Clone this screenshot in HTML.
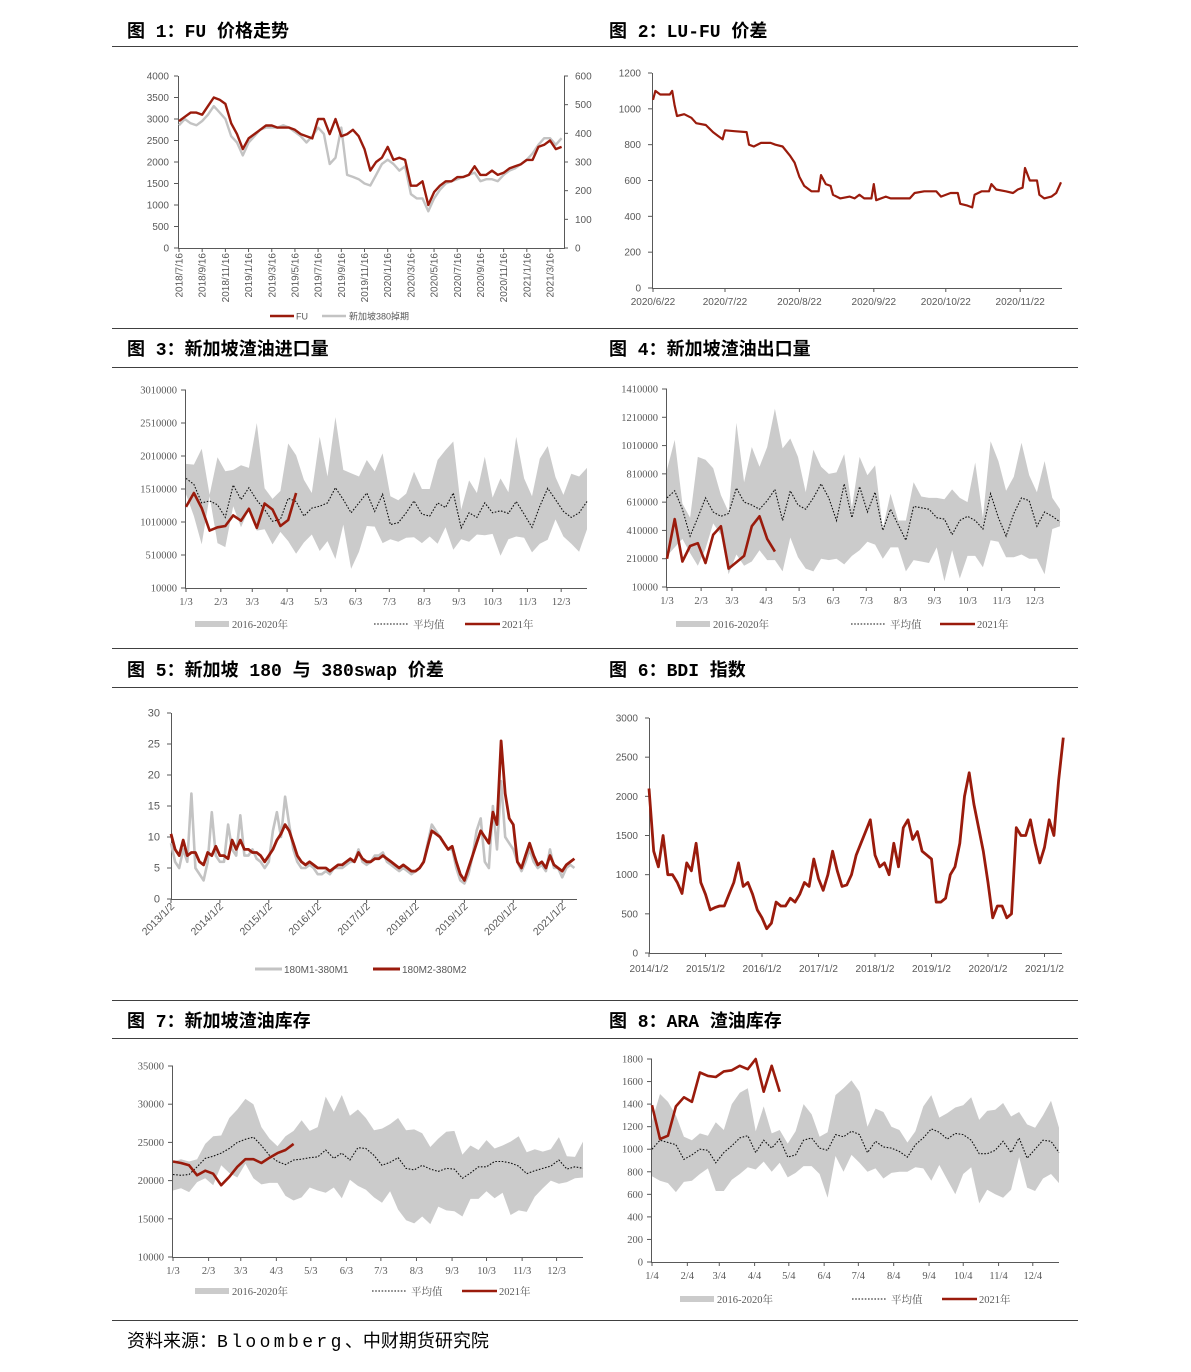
<!DOCTYPE html>
<html><head><meta charset="utf-8"><title>燃料油图表</title>
<style>
html,body{margin:0;padding:0;background:#fff;}
svg{display:block;}
.ttl{font-family:"Liberation Mono","Noto Sans CJK SC",monospace;font-size:18px;font-weight:bold;fill:#000;}
.sn{font-family:"Liberation Sans","Noto Sans CJK SC",sans-serif;font-size:10px;fill:#595959;}
.sf{font-family:"Liberation Serif","Noto Serif CJK SC",serif;font-size:10.5px;fill:#595959;}
</style></head>
<body>
<svg id="page" xmlns="http://www.w3.org/2000/svg" width="1191" height="1372" viewBox="0 0 1191 1372">
<rect x="0" y="0" width="1191" height="1372" fill="#fff"/>
<g stroke="#404040" stroke-width="1">
<line x1="112" y1="46.5" x2="1078" y2="46.5"/>
<line x1="112" y1="328.5" x2="1078" y2="328.5"/>
<line x1="112" y1="367.5" x2="1078" y2="367.5"/>
<line x1="112" y1="648.5" x2="1078" y2="648.5"/>
<line x1="112" y1="687.5" x2="1078" y2="687.5"/>
<line x1="112" y1="1000.5" x2="1078" y2="1000.5"/>
<line x1="112" y1="1038.5" x2="1078" y2="1038.5"/>
<line x1="112" y1="1320.5" x2="1078" y2="1320.5"/>
</g>
<text class="ttl" x="127" y="37">图 1：FU 价格走势</text>
<text class="ttl" x="609" y="37">图 2：LU-FU 价差</text>
<text class="ttl" x="127" y="355">图 3：新加坡渣油进口量</text>
<text class="ttl" x="609" y="355">图 4：新加坡渣油出口量</text>
<text class="ttl" x="127" y="676">图 5：新加坡 180 与 380swap 价差</text>
<text class="ttl" x="609" y="676">图 6：BDI 指数</text>
<text class="ttl" x="127" y="1027">图 7：新加坡渣油库存</text>
<text class="ttl" x="609" y="1027">图 8：ARA 渣油库存</text>
<text x="127" y="1347" style="font-family:'Liberation Mono','Noto Sans CJK SC',monospace;font-size:18px;fill:#000;">资料来源：<tspan letter-spacing="3.4">Bloomberg</tspan>、中财期货研究院</text>
</svg>
<script>
// ===== Chart 1: FU vs Singapore 380 (half-month samples from 2018/7/16) =====
const fuValues=[2950,3050,3150,3150,3100,3300,3500,3450,3350,2900,2650,2300,2550,2650,2750,2850,2850,2800,2800,2800,2750,2650,2600,2550,3000,3000,2650,3000,2600,2650,2750,2600,2300,1800,2000,2100,2350,2050,2100,2050,1450,1450,1550,1000,1300,1450,1550,1550,1650,1650,1700,1900,1700,1700,1800,1700,1750,1850,1900,1950,2050,2050,2350,2400,2500,2300,2350];
const sg380Values=[428,450,435,428,443,465,495,473,450,390,368,323,368,390,413,420,420,420,428,420,405,390,368,390,420,398,293,315,420,255,248,240,225,218,255,293,308,293,270,285,188,173,173,128,173,203,225,233,240,248,255,263,233,240,240,233,255,270,278,293,308,330,360,383,383,360,383];
const c1TickLabels=['2018/7/16','2018/9/16','2018/11/16','2019/1/16','2019/3/16','2019/5/16','2019/7/16','2019/9/16','2019/11/16','2020/1/16','2020/3/16','2020/5/16','2020/7/16','2020/9/16','2020/11/16','2021/1/16','2021/3/16'];
const c1LeftTicks=[0,500,1000,1500,2000,2500,3000,3500,4000];
const c1RightTicks=[0,100,200,300,400,500,600];
// ===== Chart 2: LU-FU spread (days since 2020/6/22) =====
const luDays=[0,1,3,7,8,9,10,13,16,18,22,25,27,29,30,34,39,40,42,45,49,51,54,57,59,61,63,66,69,70,72,74,75,78,82,84,86,88,91,92,93,97,99,107,109,113,118,120,124,127,128,131,133,134,137,140,141,143,147,150,152,154,155,157,160,161,163,166,168,170];
const luValues=[1050,1100,1080,1080,1100,1020,960,970,950,920,910,870,850,830,880,875,870,800,790,810,810,800,790,740,700,620,570,540,540,630,580,570,520,500,510,500,520,500,500,580,490,510,500,500,530,540,540,510,530,530,470,460,450,520,540,540,580,550,540,530,550,560,670,600,600,520,500,510,530,590];
const c2TickDays=[0,30,61,92,122,153];
const c2TickLabels=['2020/6/22','2020/7/22','2020/8/22','2020/9/22','2020/10/22','2020/11/22'];
const c2YTicks=[0,200,400,600,800,1000,1200];
// ===== Seasonal weekly charts shared tick months =====
const monthDays=[0,31,59,90,120,151,181,212,243,273,304,334];
const monthLabels3=['1/3','2/3','3/3','4/3','5/3','6/3','7/3','8/3','9/3','10/3','11/3','12/3'];
const monthLabels4=['1/4','2/4','3/4','4/4','5/4','6/4','7/4','8/4','9/4','10/4','11/4','12/4'];
// ===== Chart 3: Singapore imports =====
const impHigh=[1890000,1880000,2120000,1420000,1990000,1780000,1800000,1870000,1830000,2510000,1520000,1360000,1480000,2200000,2020000,1650000,1450000,2300000,1700000,2600000,1800000,1750000,1700000,1950000,1780000,2050000,1400000,1340000,1440000,1770000,1510000,1510000,1950000,2100000,2230000,1200000,1640000,1450000,2000000,1380000,1670000,1460000,2300000,1670000,1400000,1970000,2160000,1690000,1420000,1740000,1700000,1830000];
const impLow=[1430000,1100000,670000,1400000,690000,630000,1250000,930000,1200000,880000,900000,670000,860000,720000,530000,700000,820000,570000,720000,450000,970000,300000,560000,950000,940000,690000,750000,710000,770000,780000,690000,790000,680000,930000,590000,750000,710000,820000,810000,830000,500000,750000,790000,770000,550000,680000,740000,1050000,790000,680000,560000,900000];
const impAvg=[1670000,1580000,1300000,1330000,1270000,1080000,1570000,1350000,1530000,1340000,1200000,1020000,1050000,1370000,1320000,1100000,1220000,1250000,1300000,1530000,1350000,1150000,1300000,1450000,1170000,1430000,970000,1000000,1150000,1330000,1130000,1100000,1300000,1230000,1450000,920000,1150000,1080000,1300000,1150000,1180000,1140000,1320000,1130000,930000,1250000,1520000,1350000,1170000,1080000,1150000,1320000];
const imp2021=[1240000,1450000,1220000,880000,930000,950000,1110000,1030000,1210000,920000,1290000,1200000,950000,1040000,1450000];
const c3YTicks=[10000,510000,1010000,1510000,2010000,2510000,3010000];
// ===== Chart 4: Singapore exports =====
const expHigh=[840000,1050000,600000,500000,930000,910000,850000,660000,540000,1170000,750000,1000000,860000,1000000,1270000,990000,1060000,930000,680000,980000,860000,810000,820000,950000,570000,930000,800000,870000,420000,670000,480000,480000,750000,650000,640000,640000,630000,700000,640000,610000,890000,500000,1040000,900000,690000,790000,1030000,800000,680000,900000,640000,560000];
const expLow=[230000,290000,350000,250000,160000,280000,460000,380000,100000,240000,160000,190000,270000,200000,200000,120000,360000,220000,140000,120000,210000,200000,210000,170000,230000,270000,330000,310000,210000,290000,290000,120000,200000,190000,180000,290000,50000,270000,70000,230000,230000,150000,340000,330000,220000,220000,240000,210000,210000,100000,420000,440000];
const expAvg=[640000,690000,560000,370000,500000,640000,540000,510000,530000,710000,610000,590000,560000,620000,700000,480000,690000,590000,560000,640000,740000,640000,480000,740000,500000,720000,540000,680000,410000,560000,450000,340000,580000,570000,560000,500000,490000,380000,480000,510000,480000,420000,670000,500000,370000,530000,640000,620000,440000,540000,510000,470000];
const exp2021=[210000,490000,190000,300000,320000,180000,380000,440000,140000,185000,230000,440000,510000,350000,260000];
const c4YTicks=[10000,210000,410000,610000,810000,1010000,1210000,1410000];
// ===== Chart 5: 180/380 spread (monthly from 2013/1) =====
const spreadM2=[10.5,8,7,9.5,7,7.5,7.5,6,5.5,7.5,7,8.5,7,7,6.5,9.5,8,9.5,8,8,7.5,7.5,7,6,7,8,9.5,10.5,12,11,9,7,6,5.5,6,5.5,5,5,5,4.5,5,5.5,5.5,6,6.5,6,7.5,6.5,6,6,6.5,6.5,7,6.5,6,5.5,5,5.5,5,4.5,4.5,5,6,8.5,11,10.5,10,9,8,8.5,6,4,3,5,7,9,11,10,9,14,12,25.5,17,13,12,6,5,7,9,7,5.5,6,5,7,5.5,5,4.5,5.5,6,6.5];
const spreadM1=[9,6,5,8,6,17,5,4,3,6,14,7,6,6,12,8,7,13.5,7,7,8,6.5,6,5,6,11,14,10,16.5,12,8,6,5,5,5.5,5,4,4,4.5,4,5,5,5,5.5,6,6,8,6,5.5,6,7,7,7.5,6,5.5,5,4.5,5,4.5,4,4.5,5,6,9,12,11,10,9,8,8,5,3,2.5,4,7,11,13,6,5,15,8,19,10,9,8,6,4.5,6,8,6,5,5.5,4.5,8,5,5,3.5,5,5.5,5];
const c5YTicks=[0,5,10,15,20,25,30];
const c5YearLabels=['2013/1/2','2014/1/2','2015/1/2','2016/1/2','2017/1/2','2018/1/2','2019/1/2','2020/1/2','2021/1/2'];
// ===== Chart 6: BDI (monthly from 2014/1) =====
const bdiValues=[2100,1300,1100,1500,1000,1000,900,760,1150,1050,1400,900,750,550,580,600,600,750,900,1150,850,900,750,550,450,310,380,650,600,600,700,650,750,900,850,1200,950,800,1000,1300,1050,850,870,1000,1250,1400,1550,1700,1250,1100,1150,1000,1400,1100,1600,1700,1450,1550,1300,1250,1200,650,650,700,1000,1100,1400,2000,2300,1900,1600,1300,900,450,600,600,450,500,1600,1500,1500,1700,1400,1150,1350,1700,1500,2200,2750];
const c6YTicks=[0,500,1000,1500,2000,2500,3000];
const c6YearLabels=['2014/1/2','2015/1/2','2016/1/2','2017/1/2','2018/1/2','2019/1/2','2020/1/2','2021/1/2'];
// ===== Chart 7: Singapore inventory =====
const invHigh=[22500,22800,22500,22800,24800,25800,25900,28200,29300,30700,30000,27000,25500,24500,25800,26500,27900,26500,27000,31000,29000,31200,28500,29300,28200,26600,26800,27400,28200,26600,26700,26200,24400,25500,26400,26500,23400,24600,24000,25300,24200,24600,25100,25800,23700,24100,23800,24100,25700,23200,23100,25100];
const invLow=[18700,19000,18500,19800,20300,19400,22000,21000,20400,22200,20300,19500,19700,19700,18000,17400,17800,19100,18700,18400,19100,17700,20100,19300,18800,17800,17100,18600,16200,14800,14400,15300,14300,16600,16100,16000,15300,17600,17600,18600,17700,18400,15500,16100,15900,17900,19000,20000,19600,19800,20300,20400];
const invAvg=[20800,20700,20800,21800,22900,23200,23600,24200,25000,25400,25700,24600,23300,22500,22100,22700,22800,23000,23100,24000,22900,23600,22700,24300,24200,23300,22000,22400,23000,21600,21400,22000,21500,21200,21600,21500,20300,21000,21800,21800,22500,22500,22300,21900,20900,21300,21600,21900,22700,21500,21800,21600];
const inv2021=[22500,22300,22000,20700,21300,20900,19400,20500,21800,22800,22800,22300,23000,23600,24000,24800];
const c7YTicks=[10000,15000,20000,25000,30000,35000];
// ===== Chart 8: ARA inventory =====
const araHigh=[1250,1490,1420,1300,1110,1080,1140,1120,1240,1170,1400,1500,1540,1160,1380,1140,1170,1050,1160,1400,1310,1110,1150,1480,1540,1610,1510,1200,1360,1330,1200,1170,1060,1160,1380,1480,1280,1320,1370,1390,1460,1260,1340,1350,1410,1290,1330,1220,1190,1300,1430,1190];
const araLow=[760,720,700,620,710,720,780,830,630,630,730,780,840,820,890,800,880,750,790,850,850,780,570,940,800,950,880,800,830,740,790,800,800,840,830,720,860,730,600,780,840,520,640,600,570,640,930,660,630,740,780,700];
const araAvg=[1000,1080,1060,1040,910,950,1000,990,880,970,1030,1100,1120,970,1080,1010,1090,930,950,1080,1100,1010,990,1130,1110,1160,1130,970,1070,1020,1010,980,930,1040,1100,1180,1150,1090,1140,1130,1080,960,960,990,1070,970,1100,920,1000,1080,1070,970];
const ara2021=[1390,1090,1120,1380,1460,1420,1680,1650,1640,1690,1700,1740,1710,1800,1510,1740,1510];
const c8YTicks=[0,200,400,600,800,1000,1200,1400,1600,1800];

const NS='http://www.w3.org/2000/svg';
const svg=document.getElementById('page');
const RED='#9a1b0c', GRAYL='#c3c3c3', BAND='#cbcbcb';
function mk(tag,attrs,parent){const e=document.createElementNS(NS,tag);for(const k in attrs)e.setAttribute(k,attrs[k]);(parent||svg).appendChild(e);return e;}
function lin(d0,d1,r0,r1){return v=>r0+(v-d0)/(d1-d0)*(r1-r0);}
function pathD(sx,sy,xs,ys){return ys.map((v,i)=>(i?'L':'M')+sx(xs[i]).toFixed(1)+','+sy(v).toFixed(1)).join('');}
function idx(n){return Array.from({length:n},(_,i)=>i);}
function bandD(sx,sy,lo,hi){const xs=idx(hi.length);let d=pathD(sx,sy,xs,hi);for(let i=lo.length-1;i>=0;i--)d+='L'+sx(i).toFixed(1)+','+sy(lo[i]).toFixed(1);return d+'Z';}
function group(name){const g=mk('g',{});return g;}

// ---------- Chart 1 ----------
(function(){
 const g=group('chart1-fu-price');
 const sx=lin(0,32,179,550), sy=lin(0,4000,248,76), syR=lin(0,600,248,76);
 const ax=mk('path',{d:'M178.5,76V248.5H564.5V76',fill:'none',stroke:'#595959','stroke-width':1},g);
 
 c1LeftTicks.forEach(v=>{const y=sy(v);
  const t=mk('line',{x1:174,x2:178,y1:y,y2:y,stroke:'#595959'},g);
  const l=mk('text',{x:169,y:y+3.5,'text-anchor':'end',class:'sn'},g);l.textContent=v;});
 c1RightTicks.forEach(v=>{const y=syR(v);
  const t=mk('line',{x1:564,x2:568,y1:y,y2:y,stroke:'#595959'},g);
  const l=mk('text',{x:575,y:y+3.5,class:'sn'},g);l.textContent=v;});
 c1TickLabels.forEach((s,i)=>{const x=sx(i*2);
  const t=mk('line',{x1:x,x2:x,y1:248,y2:252,stroke:'#595959'},g);
  const l=mk('text',{x:0,y:0,'text-anchor':'end',class:'sn',transform:`translate(${x+3.5},253) rotate(-90)`},g);l.textContent=s;});
 const xs=idx(fuValues.length).map(i=>i*0.5);
 const gp=mk('path',{d:pathD(sx,syR,xs,sg380Values),fill:'none',stroke:GRAYL,'stroke-width':2.4,'stroke-linejoin':'round'},g);
 
 const rp=mk('path',{d:pathD(sx,sy,xs,fuValues),fill:'none',stroke:RED,'stroke-width':2.4,'stroke-linejoin':'round'},g);
 
 const l1=mk('line',{x1:270,x2:294,y1:316,y2:316,stroke:RED,'stroke-width':2.5},g);
 const t1=mk('text',{x:296,y:319.5,class:'sn',style:'font-size:9px'},g);t1.textContent='FU';
 const l2=mk('line',{x1:322,x2:346,y1:316,y2:316,stroke:GRAYL,'stroke-width':2.5},g);
 const t2=mk('text',{x:349,y:319.5,class:'sn',style:'font-size:9px'},g);t2.textContent='新加坡380掉期';
})();

// ---------- Chart 2 ----------
(function(){
 const g=group('chart2-lu-fu-spread');
 const sx=lin(0,30,653,725), sy=lin(0,1200,288,73);
 const ax=mk('path',{d:'M652.5,73V288.5H1062',fill:'none',stroke:'#595959'},g);
 c2YTicks.forEach(v=>{const y=sy(v);
  const t=mk('line',{x1:648,x2:652,y1:y,y2:y,stroke:'#595959'},g);
  const l=mk('text',{x:641,y:y+3.5,'text-anchor':'end',class:'sn'},g);l.textContent=v;});
 c2TickDays.forEach((d,i)=>{const x=sx(d);
  const t=mk('line',{x1:x,x2:x,y1:288,y2:292,stroke:'#595959'},g);
  const l=mk('text',{x:x,y:305,'text-anchor':'middle',class:'sn'},g);l.textContent=c2TickLabels[i];});
 const p=mk('path',{d:pathD(sx,sy,luDays,luValues),fill:'none',stroke:RED,'stroke-width':2.2,'stroke-linejoin':'round'},g);
 
})();

// ---------- Seasonal chart builder ----------
function seasonal(cfg){
 const g=group(cfg.name);
 const sx=lin(0,51,cfg.x0,cfg.x1), sy=lin(cfg.yT[0],cfg.yT[cfg.yT.length-1],cfg.yB,cfg.yTop);
 const b=mk('path',{d:bandD(sx,sy,cfg.lo,cfg.hi),fill:BAND,stroke:'none'},g);
 const ax=mk('path',{d:`M${cfg.x0-0.5},${cfg.yTop}V${cfg.yB+0.5}H${cfg.x1}`,fill:'none',stroke:'#595959'},g);
 cfg.yT.forEach(v=>{const y=sy(v);
  const t=mk('line',{x1:cfg.x0-5,x2:cfg.x0,y1:y,y2:y,stroke:'#595959'},g);
  const l=mk('text',{x:cfg.x0-9,y:y+3.5,'text-anchor':'end',class:'sf'},g);l.textContent=v;});
 monthDays.forEach((d,i)=>{const x=sx(d/7);
  const t=mk('line',{x1:x,x2:x,y1:cfg.yB,y2:cfg.yB+4,stroke:'#595959'},g);
  const l=mk('text',{x:x,y:cfg.yB+17,'text-anchor':'middle',class:'sf'},g);l.textContent=cfg.mL[i];});
 const a=mk('path',{d:pathD(sx,sy,idx(cfg.avg.length),cfg.avg),fill:'none',stroke:'#111','stroke-width':1.1,'stroke-dasharray':'1.6,1.6'},g);
 const r=mk('path',{d:pathD(sx,sy,idx(cfg.cur.length),cfg.cur),fill:'none',stroke:RED,'stroke-width':2.6,'stroke-linejoin':'round'},g);
 const L=cfg.leg, ly=L.y;
 const s1=mk('rect',{x:L.g,y:ly-3,width:34,height:6,fill:BAND},g);
 const t1=mk('text',{x:L.g+37,y:ly+4,class:'sf'},g);t1.textContent='2016-2020年';
 const s2=mk('line',{x1:L.a,x2:L.a+34,y1:ly,y2:ly,stroke:'#111','stroke-width':1.1,'stroke-dasharray':'1.6,1.6'},g);
 const t2=mk('text',{x:L.a+39,y:ly+4,class:'sf'},g);t2.textContent='平均值';
 const s3=mk('line',{x1:L.r,x2:L.r+35,y1:ly,y2:ly,stroke:RED,'stroke-width':2.6},g);
 const t3=mk('text',{x:L.r+37,y:ly+4,class:'sf'},g);t3.textContent='2021年';
}
seasonal({name:'chart3-sg-imports',x0:186,x1:587,yTop:390,yB:588,yT:c3YTicks,hi:impHigh,lo:impLow,avg:impAvg,cur:imp2021,mL:monthLabels3,leg:{y:624,g:195,a:374,r:465}});
seasonal({name:'chart4-sg-exports',x0:667,x1:1060,yTop:389,yB:587,yT:c4YTicks,hi:expHigh,lo:expLow,avg:expAvg,cur:exp2021,mL:monthLabels3,leg:{y:624,g:676,a:851,r:940}});
seasonal({name:'chart7-sg-inventory',x0:173,x1:583,yTop:1066,yB:1257,yT:c7YTicks,hi:invHigh,lo:invLow,avg:invAvg,cur:inv2021,mL:monthLabels3,leg:{y:1291,g:195,a:372,r:462}});
seasonal({name:'chart8-ara-inventory',x0:652,x1:1059,yTop:1059,yB:1262,yT:c8YTicks,hi:araHigh,lo:araLow,avg:araAvg,cur:ara2021,mL:monthLabels4,leg:{y:1299,g:680,a:852,r:942}});

// ---------- Chart 5 ----------
(function(){
 const g=group('chart5-180-380-spread');
 const sx=lin(0,12,171,219.9), sy=lin(0,30,899,713);
 const ax=mk('path',{d:'M171.5,713V899.5H577',fill:'none',stroke:'#595959'},g);
 c5YTicks.forEach(v=>{const y=sy(v);
  const t=mk('line',{x1:167,x2:171,y1:y,y2:y,stroke:'#595959'},g);
  const l=mk('text',{x:160,y:y+3.5,'text-anchor':'end',class:'sn',style:'font-size:11px'},g);l.textContent=v;});
 c5YearLabels.forEach((s,i)=>{const x=sx(i*12);
  const t=mk('line',{x1:x,x2:x,y1:899,y2:903,stroke:'#595959'},g);
  const l=mk('text',{x:0,y:0,'text-anchor':'end',class:'sn',style:'font-size:10.5px',transform:`translate(${x+4},907) rotate(-45)`},g);l.textContent=s;});
 const xs=idx(spreadM1.length);
 const a=mk('path',{d:pathD(sx,sy,xs,spreadM1),fill:'none',stroke:GRAYL,'stroke-width':2.6,'stroke-linejoin':'round'},g);
 const b=mk('path',{d:pathD(sx,sy,xs,spreadM2),fill:'none',stroke:RED,'stroke-width':2.8,'stroke-linejoin':'round'},g);
 const s1=mk('line',{x1:255,x2:282,y1:969,y2:969,stroke:GRAYL,'stroke-width':3},g);
 const t1=mk('text',{x:284,y:973,class:'sn'},g);t1.textContent='180M1-380M1';
 const s2=mk('line',{x1:373,x2:400,y1:969,y2:969,stroke:RED,'stroke-width':3},g);
 const t2=mk('text',{x:402,y:973,class:'sn'},g);t2.textContent='180M2-380M2';
})();

// ---------- Chart 6 ----------
(function(){
 const g=group('chart6-bdi-index');
 const sx=lin(0,12,649,705.5), sy=lin(0,3000,953,718);
 const ax=mk('path',{d:'M649.5,718V953.5H1062',fill:'none',stroke:'#595959'},g);
 c6YTicks.forEach(v=>{const y=sy(v);
  const t=mk('line',{x1:645,x2:649,y1:y,y2:y,stroke:'#595959'},g);
  const l=mk('text',{x:638,y:y+3.5,'text-anchor':'end',class:'sn'},g);l.textContent=v;});
 c6YearLabels.forEach((s,i)=>{const x=sx(i*12);
  const t=mk('line',{x1:x,x2:x,y1:953,y2:957,stroke:'#595959'},g);
  const l=mk('text',{x:x,y:972,'text-anchor':'middle',class:'sn'},g);l.textContent=s;});
 const p=mk('path',{d:pathD(sx,sy,idx(bdiValues.length),bdiValues),fill:'none',stroke:RED,'stroke-width':2.8,'stroke-linejoin':'round'},g);
 
})();
</script>
</body></html>
